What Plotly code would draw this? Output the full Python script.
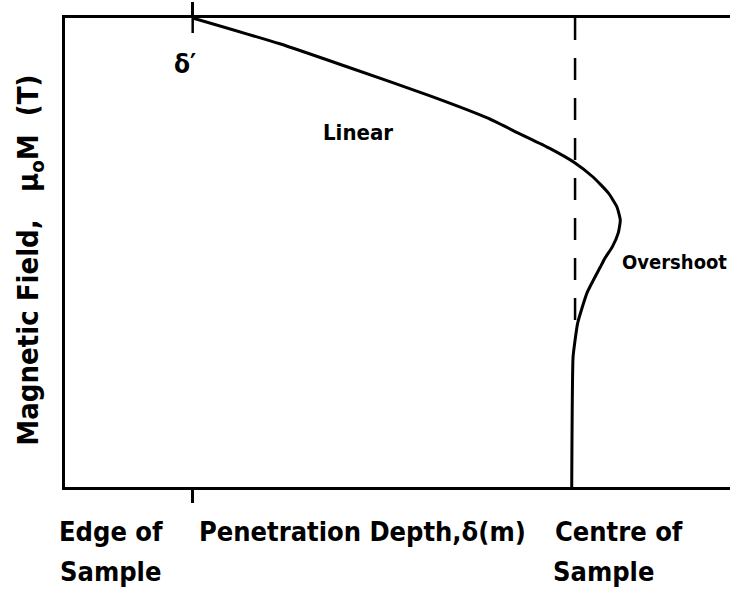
import plotly.graph_objects as go

# magnetisation profile (depth in % of plot width, field in % of height)
depth = [19.2, 32.3, 42.4, 54.9, 63.5, 68.4, 72.9, 76.7, 79.4, 81.7, 83.0, 83.5, 83.2, 82.3, 81.2,
         80.5, 78.5, 77.1, 76.7, 76.4, 76.2]
field = [100.0, 94.5, 89.6, 83.4, 78.7, 75.3, 72.2, 69.1, 66.1, 62.7, 59.7, 56.9, 54.2, 51.2, 48.8,
         46.9, 41.4, 35.0, 31.3, 27.7, 0.0]

delta_prime = 19.2     # delta' tick
centre = 76.7          # centre of sample (dashed)
dash_y = [100, 35]

FONT = "DejaVu Sans Condensed, DejaVu Sans"

fig = go.Figure()

#centre dashed line
fig.add_trace(go.Scatter(x=[centre, centre], y=dash_y, mode="lines",
                         line=dict(color="black", width=2.5, dash="22px,18px"),
                         hoverinfo="skip"))
#profile
fig.add_trace(go.Scatter(x=depth, y=field, mode="lines",
                         line=dict(color="black", width=3, shape="spline", smoothing=0.5),
                         hoverinfo="skip"))

fig.update_xaxes(range=[0, 100], showgrid=False, zeroline=False,
                 showline=True, linecolor="black", linewidth=2.5, mirror="ticks",
                 tickvals=[delta_prime], ticktext=[""], ticks="outside",
                 ticklen=13, tickwidth=2.5, tickcolor="black")
fig.update_yaxes(range=[0, 100], showgrid=False, zeroline=False,
                 showline=True, linecolor="black", linewidth=2.5,
                 showticklabels=False, ticks="")

#inner part of the top tick
fig.add_shape(type="line", xref="x", yref="y", x0=delta_prime, x1=delta_prime, y0=100, y1=96.8,
              line=dict(color="black", width=2.5))

def note(text, x, y, size, xanchor="center", xref="x", yref="y", angle=0):
    fig.add_annotation(text=text, x=x, y=y, xref=xref, yref=yref, showarrow=False,
                       xanchor=xanchor, yanchor="middle", textangle=angle,
                       font=dict(family=FONT, size=size, color="black", weight="bold"))

note("δ′", 18.0, 90.2, 26)
note("Linear", 44.1, 75.5, 22)
note("Overshoot", 83.4, 48.0, 20, xanchor="left")

note("Edge of", -0.012, -0.094, 27, xanchor="left", xref="paper", yref="paper")
note("Sample", -0.011, -0.181, 27, xanchor="left", xref="paper", yref="paper")
note("Penetration Depth,δ(m)", 44.7, -0.094, 27, yref="paper")
note("Centre of", 73.4, -0.094, 27, xanchor="left", yref="paper")
note("Sample", 73.1, -0.181, 27, xanchor="left", yref="paper")

note("Magnetic Field,&nbsp;&nbsp;&nbsp;μ<sub>o</sub>M&nbsp;&nbsp;(T)", -0.053, 0.484, 29,
     xref="paper", yref="paper", angle=-90)

fig.update_layout(width=730, height=594, margin=dict(l=65, r=0, t=18, b=107),
                  plot_bgcolor="white", paper_bgcolor="white", showlegend=False)

fig.write_html("out.html", config={"displayModeBar": False},
               post_script="document.body.style.margin='0';document.body.style.overflow='hidden';")
